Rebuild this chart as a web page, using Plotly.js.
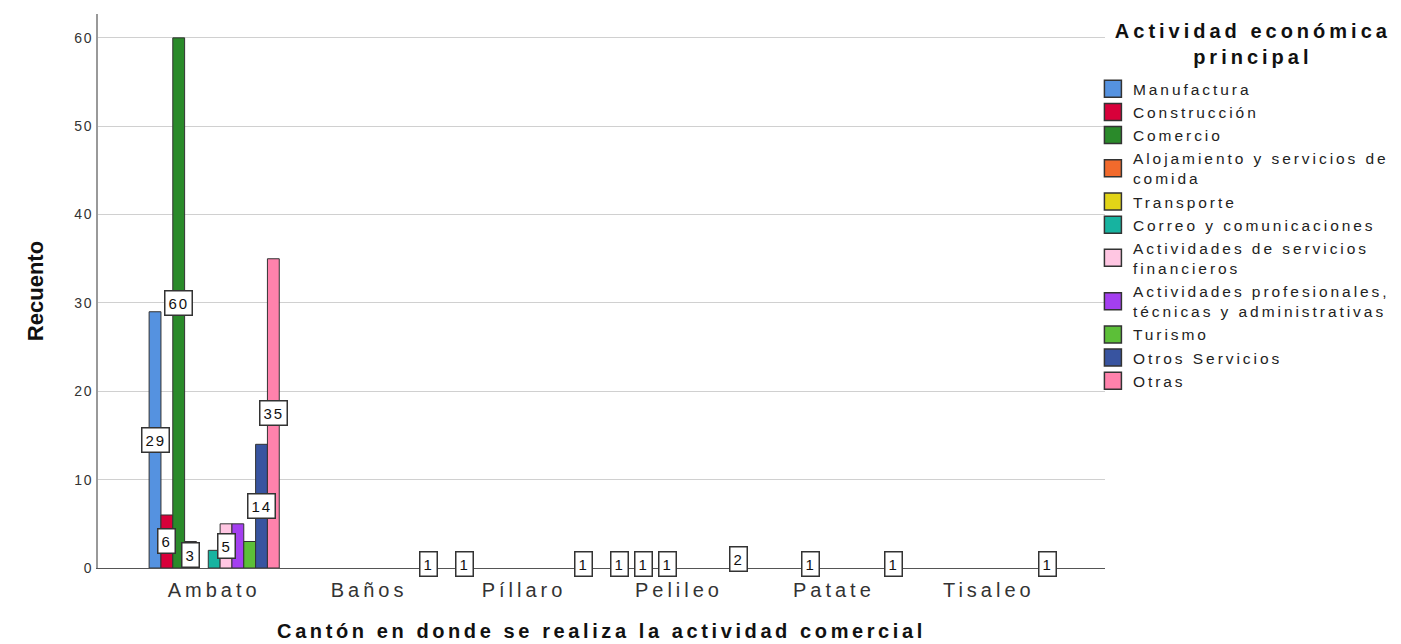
<!DOCTYPE html>
<html>
<head>
<meta charset="utf-8">
<script src="https://cdn.plot.ly/plotly-3.0.1.min.js"></script>
<style>
html, body { margin: 0; padding: 0; background: #fff; }
.xtick text { letter-spacing: 0.2em; }
.ytick text { letter-spacing: 0.12em; }
.xtitle { letter-spacing: 0.18em; }
.legendtext { letter-spacing: 0.19em; }
.annotation-text { letter-spacing: 0.12em; }
.legendtitle-ann .annotation-text { letter-spacing: 0.2em; }
</style>
</head>
<body>
<div id="chart" style="width:1401px;height:644px;"></div>
<script>
// Categories (x axis)
const cantones = ['Ambato', 'Baños', 'Píllaro', 'Pelileo', 'Patate', 'Tisaleo'];

// Series names (legend)
const actividades = [
  'Manufactura',
  'Construcción',
  'Comercio',
  'Alojamiento y servicios de<br>comida',
  'Transporte',
  'Correo y comunicaciones',
  'Actividades de servicios<br>financieros',
  'Actividades profesionales,<br>técnicas y administrativas',
  'Turismo',
  'Otros Servicios',
  'Otras'
];

const tituloLeyenda = 'Actividad económica<br>principal';

// Counts per canton (order of cantones)
const manufactura    = [29, 0, 1, 1, 0, 0];
const construccion   = [6, 0, 0, 0, 0, 0];
const comercio       = [60, 0, 0, 1, 0, 0];
const alojamiento    = [3, 0, 0, 0, 1, 0];
const transporte     = [0, 0, 0, 1, 0, 0];
const correo         = [2, 0, 0, 0, 0, 0];
const financieros    = [5, 0, 0, 0, 0, 0];
const profesionales  = [5, 0, 0, 0, 0, 0];
const turismo        = [3, 0, 0, 0, 0, 0];
const otrosServicios = [14, 0, 0, 0, 0, 0];
const otras          = [35, 1, 1, 2, 1, 1];

const series = [manufactura, construccion, comercio, alojamiento, transporte, correo,
                financieros, profesionales, turismo, otrosServicios, otras];

const colores = ['#5592e0', '#d8003a', '#2a8a2a', '#f26a2c', '#e2d417', '#17b3a0',
                 '#ffc6e2', '#a43ff0', '#5cbf38', '#3854a0', '#ff82ac'];

// Data labels not shown in the reference (overlap-hidden)
const etiquetasOcultas = [[0, 5], [0, 7], [0, 8]]; // [canton index, series index]

const margin = {l: 98, r: 296, t: 14, b: 76};
const W = 1401, H = 644;
const xRange = [-0.75, 5.75];
const bargap = 0.16;

const traces = series.map((vals, k) => ({
  type: 'bar',
  name: actividades[k],
  x: cantones,
  y: vals.map(v => v === 0 ? null : v),
  marker: {color: colores[k], line: {color: '#333', width: 1}},
  hoverinfo: 'x+y+name'
}));

const plotW = W - margin.l - margin.r;
const pxPerCat = plotW / (xRange[1] - xRange[0]);
const n = series.length;
const slotPx = pxPerCat * (1 - bargap) / n;

const annotations = [];
series.forEach((vals, k) => {
  vals.forEach((v, i) => {
    if (!v) return;
    if (etiquetasOcultas.some(p => p[0] === i && p[1] === k)) return;
    annotations.push({
      x: cantones[i], y: v / 2, xref: 'x', yref: 'y',
      text: String(v), showarrow: false,
      xshift: (k - (n - 1) / 2) * slotPx,
      bgcolor: '#ffffff', bordercolor: '#333', borderwidth: 1.5, borderpad: 3,
      font: {size: 15, color: '#111'}
    });
  });
});

// Legend title as a centred annotation
annotations.push({
  x: 1.147, y: 0.993, xref: 'paper', yref: 'paper', xanchor: 'center', yanchor: 'top',
  text: '<b>' + tituloLeyenda + '</b>', showarrow: false, align: 'center',
  font: {size: 20, color: '#111'}
});

const layout = {
  width: W, height: H,
  margin: Object.assign({autoexpand: false}, margin),
  paper_bgcolor: '#fff', plot_bgcolor: '#fff',
  barmode: 'group', bargap: bargap, bargroupgap: 0,
  font: {family: '"Liberation Sans", Arial, sans-serif', color: '#222'},
  xaxis: {
    type: 'category', range: xRange,
    showline: true, linecolor: '#555', linewidth: 1,
    ticks: '', showgrid: false, zeroline: false,
    ticklabelstandoff: 4,
    tickfont: {size: 20, color: '#333'},
    title: {text: '<b>Cantón en donde se realiza la actividad comercial</b>', font: {size: 20, color: '#111'}}
  },
  yaxis: {
    range: [0, 62.7], dtick: 10, tick0: 0,
    showline: true, linecolor: '#999', linewidth: 2,
    gridcolor: '#d0d0d0', gridwidth: 1, zeroline: false,
    ticks: '', tickfont: {size: 14, color: '#333'},
    title: {text: '<b>Recuento</b>', font: {size: 22, color: '#111'}}
  },
  legend: {
    x: 0.988, xanchor: 'left', y: 0.895, yanchor: 'top',
    font: {size: 15.5, color: '#222'},
    itemwidth: 30, traceorder: 'normal', bgcolor: 'rgba(0,0,0,0)'
  },
  showlegend: true,
  annotations: annotations
};

Plotly.newPlot('chart', traces, layout, {displayModeBar: false, staticPlot: true}).then(gd => {
  // tag legend-title annotation for its own letter spacing
  const anns = gd.querySelectorAll('.annotation');
  const last = anns[anns.length - 1];
  if (last) last.classList.add('legendtitle-ann');
  // larger legend swatches, like the reference
  gd.querySelectorAll('.legend .legendpoints path').forEach(p => {
    p.setAttribute('d', 'M8.5,8.5H-8.5V-8.5H8.5Z');
    p.style.strokeWidth = '1.5px';
    p.style.stroke = '#333';
  });
});
</script>
</body>
</html>
